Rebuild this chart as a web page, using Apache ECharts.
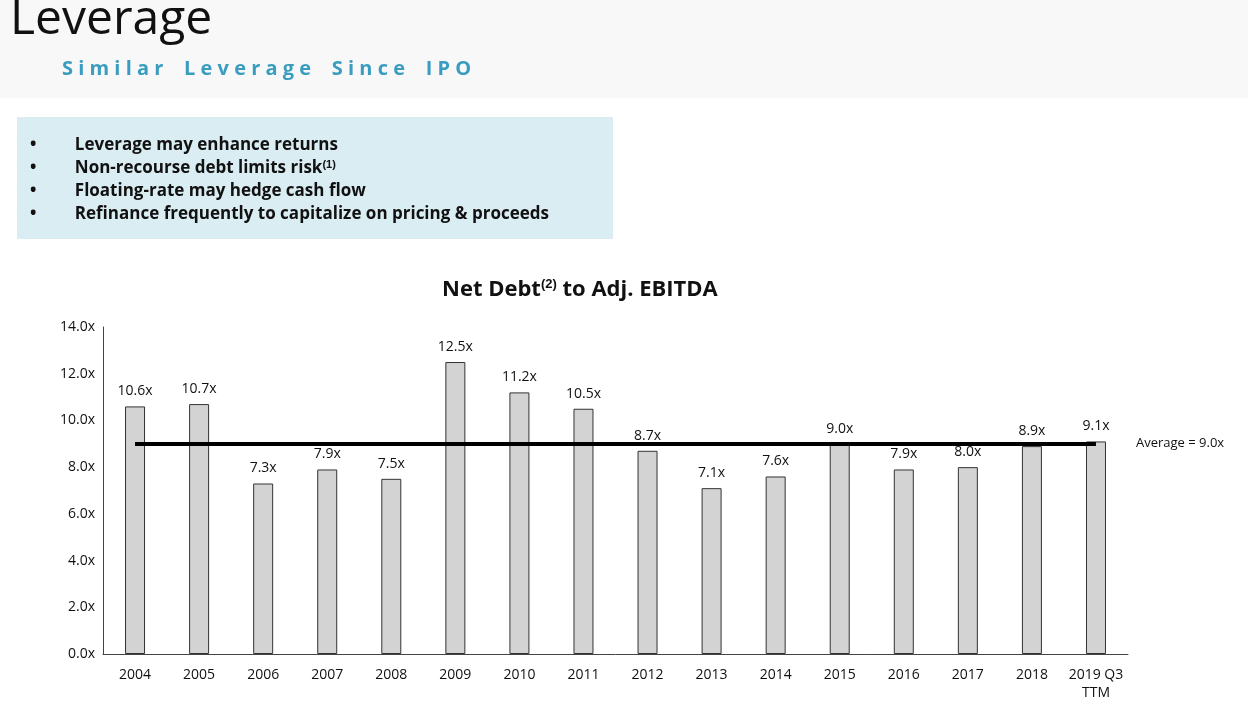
<!DOCTYPE html>
<html>
<head>
<meta charset="utf-8">
<script src="https://cdn.jsdelivr.net/npm/echarts@6/dist/echarts.min.js"></script>
<style>
  html, body { margin: 0; padding: 0; background: #fff; }
  #main { width: 1248px; height: 704px; }
</style>
</head>
<body>
<div id="main"></div>
<script>
// chart data
var categories = ['2004', '2005', '2006', '2007', '2008', '2009', '2010', '2011',
    '2012', '2013', '2014', '2015', '2016', '2017', '2018', '2019 Q3\nTTM'];
var leverage = [10.6, 10.7, 7.3, 7.9, 7.5, 12.5, 11.2, 10.5, 8.7, 7.1, 7.6, 9.0, 7.9, 8.0, 8.9, 9.1];
var average = 9.0;
var bullets = [
    'Leverage may enhance returns',
    'Non-recourse debt limits risk{sup|(1)}',
    'Floating-rate may hedge cash flow',
    'Refinance frequently to capitalize on pricing & proceeds'
];

var myChart = echarts.init(document.getElementById('main'));
var font = 'Open Sans, Liberation Sans, sans-serif';

myChart.setOption({
    animation: false,
    textStyle: {fontFamily: font},
    grid: {left: 103, right: 120, top: 327, bottom: 50},
    graphic: [
        {type: 'rect', shape: {x: 0, y: 0, width: 1248, height: 98}, style: {fill: '#f8f8f8'}},
        {type: 'text', left: 10, top: -4, style: {text: 'Leverage', font: '48px ' + font, fill: '#111'}},
        {type: 'text', left: 62, top: 59, style: {text: 'S i m i l a r    L e v e r a g e    S i n c e    I P O',
            font: 'bold 20px ' + font, fill: '#3a9dbf'}},
        {type: 'rect', shape: {x: 17, y: 117, width: 596, height: 122}, style: {fill: '#daedf3'}},
        {type: 'text', left: 30, top: 134, style: {
            text: bullets.map(function (b) { return '•\u2003\u2003 ' + b; }).join('\n'),
            font: 'bold 17px ' + font, fill: '#111', lineHeight: 23,
            rich: {sup: {fontSize: 11, fontWeight: 'bold', padding: [0, 0, 8, 0]}}
        }},
        {type: 'text', left: 442, top: 278, style: {
            text: 'Net Debt{sup|(2)} to Adj. EBITDA', font: 'bold 22px ' + font, fill: '#111',
            rich: {sup: {fontSize: 13, fontWeight: 'bold', padding: [0, 0, 10, 0]}}
        }}
    ],
    xAxis: {
        type: 'category',
        data: categories,
        axisTick: {show: false},
        axisLine: {lineStyle: {color: '#444'}},
        axisLabel: {interval: 0, color: '#111', fontSize: 14, margin: 12, lineHeight: 18}
    },
    yAxis: {
        type: 'value',
        min: 0, max: 14, interval: 2,
        splitLine: {show: false},
        axisLine: {show: true, lineStyle: {color: '#444'}},
        axisLabel: {color: '#111', fontSize: 14, formatter: function (v) { return v.toFixed(1) + 'x'; }}
    },
    series: [{
        type: 'bar',
        data: leverage,
        barWidth: 20,
        itemStyle: {color: '#d3d3d3', borderColor: '#333', borderWidth: 1},
        label: {show: true, position: 'top', distance: 8, color: '#111', fontSize: 14,
            formatter: function (p) { return p.value.toFixed(1) + 'x'; }},
        markLine: {
            silent: true,
            symbol: 'none',
            lineStyle: {color: '#000', width: 4, type: 'solid'},
            label: {show: true, position: 'end', distance: 40, color: '#111', fontSize: 13,
                formatter: 'Average = ' + average.toFixed(1) + 'x'},
            data: [[{coord: [0, average]}, {coord: [categories.length - 1, average]}]]
        }
    }]
});
</script>
</body>
</html>
